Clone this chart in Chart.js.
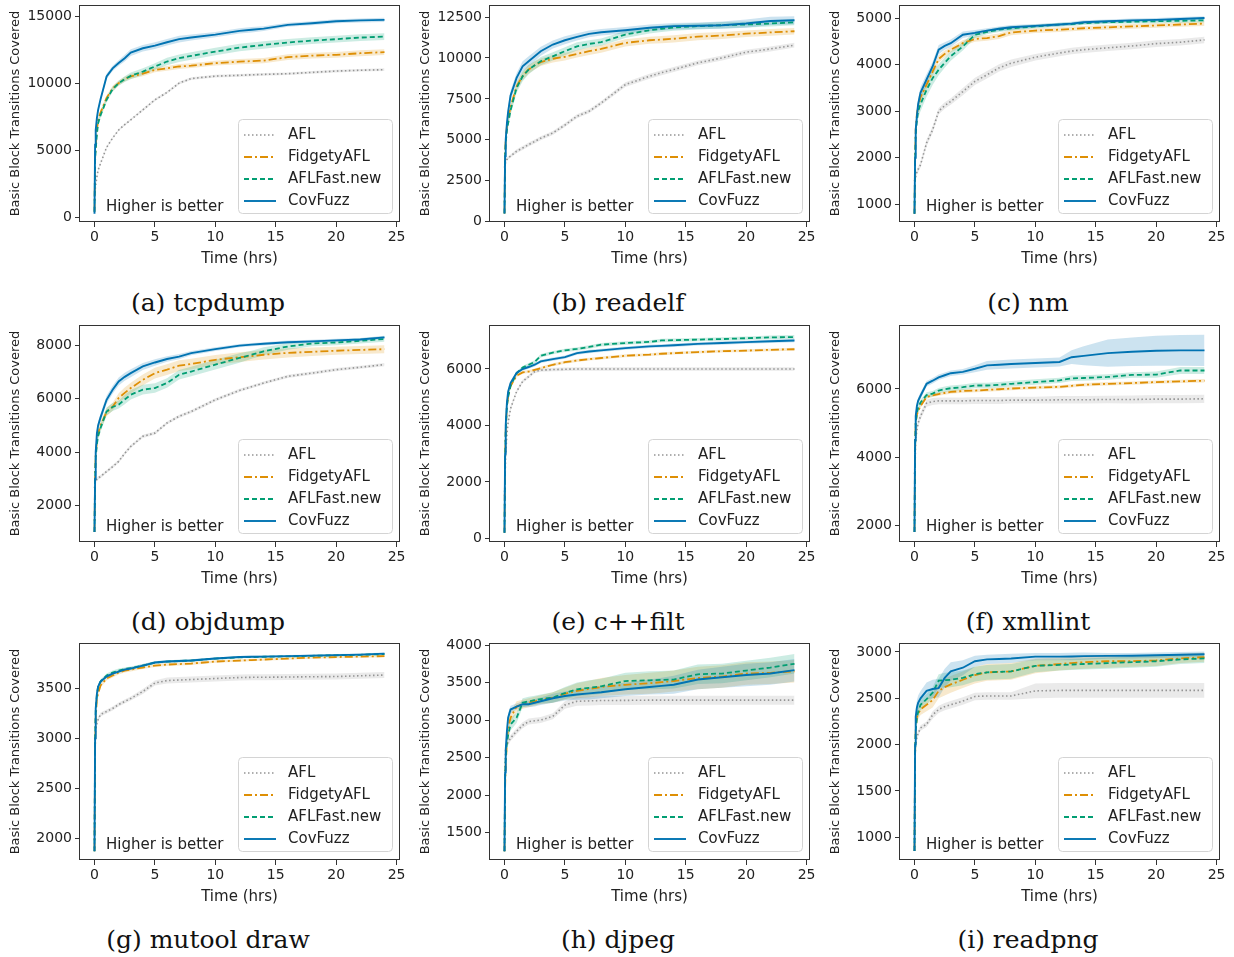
<!DOCTYPE html>
<html>
<head>
<meta charset="utf-8">
<title>Basic block transitions covered</title>
<script src="https://cdn.jsdelivr.net/npm/chart.js@4.4.0/dist/chart.umd.min.js"></script>
<style>
  body { margin: 0; background: #fff; width: 1234px; height: 957px; position: relative; overflow: hidden; }
  canvas { position: absolute; }
  .cap { position: absolute; font-family: "DejaVu Serif", serif; font-size: 25px; color: #111;
         transform: translate(-50%, -50%); white-space: nowrap; }
</style>
</head>
<body>
<script>
// time axis (hours), shared by every run
const T = [0, 0.05, 0.1, 0.2, 0.3, 0.5, 1, 1.5, 2, 2.5, 3, 4, 5, 6, 7, 8, 10, 12, 13, 14, 16, 18, 20, 22, 24];
const xTicks = [0, 5, 10, 15, 20, 25];

const seriesNames = ['AFL', 'FidgetyAFL', 'AFLFast.new', 'CovFuzz'];
const yTitle = 'Basic Block Transitions Covered';
const xTitle = 'Time (hrs)';

// (a) tcpdump
const tcpdumpAFL = [1500, 2000, 2400, 3000, 3500, 4000, 5200, 5900, 6500, 6900, 7260, 8000, 8750, 9300, 10000, 10340, 10520, 10580, 10620, 10650, 10700, 10800, 10900, 10960, 11000];
const tcpdumpFidgety = [400, 4400, 5200, 6500, 7300, 7800, 8900, 9600, 10000, 10300, 10500, 10700, 10990, 11100, 11240, 11300, 11490, 11600, 11640, 11680, 11940, 12050, 12110, 12230, 12310];
const tcpdumpFast = [400, 4200, 5000, 6200, 7000, 7600, 8750, 9550, 10000, 10300, 10540, 10860, 11240, 11610, 11860, 12030, 12350, 12650, 12750, 12850, 13030, 13170, 13280, 13400, 13470];
const tcpdumpCov = [250, 5400, 6500, 7400, 8000, 8800, 10500, 11100, 11500, 11860, 12280, 12600, 12800, 13050, 13280, 13400, 13620, 13900, 13980, 14070, 14350, 14470, 14620, 14680, 14720];
const tcpdumpAFLsd = [0, 80, 80, 80, 80, 80, 80, 80, 80, 80, 80, 100, 100, 100, 100, 100, 100, 100, 100, 100, 100, 100, 100, 100, 100];
const tcpdumpFidgetySd = [0, 200, 200, 200, 200, 200, 200, 200, 180, 180, 180, 180, 180, 180, 180, 180, 180, 200, 200, 200, 220, 220, 220, 220, 220];
const tcpdumpFastSd = [0, 200, 200, 200, 200, 200, 200, 200, 200, 220, 250, 250, 250, 280, 280, 280, 280, 280, 280, 280, 260, 260, 250, 250, 250];
const tcpdumpCovSd = [0, 150, 150, 150, 150, 150, 200, 200, 200, 250, 250, 250, 250, 250, 250, 220, 200, 200, 200, 180, 150, 150, 150, 150, 150];

// (b) readelf
const readelfAFL = [3300, 3500, 3650, 3800, 3900, 4000, 4300, 4500, 4710, 4900, 5100, 5420, 5900, 6440, 6740, 7250, 8370, 8880, 9100, 9290, 9700, 10000, 10350, 10550, 10780];
const readelfFidgety = [500, 4200, 5000, 5800, 6300, 7000, 8270, 8900, 9300, 9550, 9740, 9950, 10070, 10250, 10410, 10550, 10920, 11080, 11120, 11170, 11300, 11370, 11480, 11560, 11630];
const readelfFast = [500, 4000, 4800, 5600, 6000, 6800, 8170, 8880, 9290, 9550, 9800, 10100, 10410, 10710, 10860, 10960, 11430, 11690, 11780, 11860, 11940, 12000, 12040, 12100, 12180];
const readelfCov = [500, 4000, 5000, 6000, 6700, 7700, 8780, 9490, 9800, 10100, 10410, 10820, 11080, 11290, 11470, 11570, 11690, 11840, 11890, 11940, 11970, 12000, 12100, 12260, 12300];
const readelfAFLsd = [0, 100, 100, 100, 100, 100, 120, 120, 120, 120, 120, 120, 120, 120, 120, 120, 150, 150, 150, 150, 150, 150, 150, 150, 150];
const readelfFidgetySd = [0, 300, 300, 300, 300, 280, 250, 250, 250, 250, 230, 230, 230, 230, 230, 230, 220, 220, 220, 220, 220, 220, 200, 200, 200];
const readelfFastSd = [0, 300, 300, 300, 300, 300, 300, 300, 280, 250, 250, 250, 250, 250, 220, 220, 220, 200, 200, 200, 200, 200, 180, 180, 180];
const readelfCovSd = [0, 300, 300, 300, 300, 300, 300, 300, 300, 300, 280, 250, 250, 220, 200, 200, 200, 200, 200, 200, 200, 220, 250, 250, 250];

// (c) nm
const nmAFL = [1500, 1550, 1600, 1700, 1750, 1850, 2320, 2600, 3000, 3120, 3210, 3420, 3640, 3780, 3930, 4030, 4160, 4250, 4290, 4320, 4360, 4400, 4450, 4480, 4530];
const nmFidgety = [800, 2000, 2600, 2950, 3100, 3300, 3570, 3850, 4120, 4230, 4320, 4460, 4550, 4570, 4610, 4690, 4730, 4750, 4765, 4780, 4800, 4820, 4840, 4860, 4880];
const nmFast = [800, 1900, 2500, 2800, 3000, 3150, 3460, 3710, 3890, 4040, 4180, 4390, 4640, 4700, 4750, 4780, 4820, 4860, 4870, 4890, 4910, 4920, 4930, 4940, 4950];
const nmCov = [800, 2000, 2600, 2900, 3150, 3400, 3680, 3960, 4320, 4400, 4460, 4640, 4680, 4730, 4770, 4800, 4830, 4860, 4880, 4910, 4930, 4950, 4960, 4980, 5000];
const nmAFLsd = [0, 60, 60, 60, 60, 60, 70, 70, 70, 70, 70, 80, 80, 80, 80, 80, 70, 70, 70, 70, 70, 70, 70, 70, 70];
const nmFidgetySd = [0, 120, 120, 120, 120, 120, 100, 90, 80, 70, 60, 60, 60, 60, 60, 60, 50, 50, 50, 50, 50, 50, 50, 50, 50];
const nmFastSd = [0, 150, 150, 150, 150, 150, 150, 150, 120, 110, 100, 90, 70, 50, 50, 50, 40, 40, 40, 40, 40, 40, 40, 40, 40];
const nmCovSd = [0, 120, 120, 120, 120, 120, 120, 100, 100, 80, 80, 70, 60, 50, 50, 50, 40, 40, 40, 40, 40, 40, 40, 40, 40];

// (d) objdump
const objdumpAFL = [2650, 2800, 2900, 2980, 3030, 3080, 3270, 3450, 3650, 3950, 4210, 4590, 4710, 5090, 5340, 5520, 5960, 6310, 6450, 6590, 6840, 6960, 7090, 7180, 7280];
const objdumpFidgety = [1000, 3100, 3900, 4400, 4700, 5000, 5500, 5700, 6030, 6220, 6400, 6710, 6960, 7090, 7240, 7300, 7460, 7560, 7600, 7650, 7720, 7760, 7800, 7830, 7860];
const objdumpFast = [1000, 3000, 3800, 4300, 4600, 4900, 5520, 5690, 5780, 5970, 6150, 6340, 6400, 6590, 6900, 7020, 7280, 7530, 7650, 7780, 7960, 8070, 8110, 8170, 8240];
const objdumpCov = [1000, 3000, 4000, 4700, 5000, 5300, 5960, 6340, 6650, 6820, 6960, 7210, 7360, 7490, 7580, 7710, 7860, 7990, 8030, 8060, 8120, 8150, 8190, 8220, 8300];
const objdumpAFLsd = [0, 60, 60, 60, 60, 60, 60, 60, 60, 60, 60, 60, 60, 60, 60, 60, 60, 60, 60, 60, 60, 60, 60, 60, 60];
const objdumpFidgetySd = [0, 150, 150, 150, 150, 150, 150, 150, 180, 200, 200, 200, 200, 200, 200, 200, 180, 180, 180, 180, 170, 160, 150, 150, 150];
const objdumpFastSd = [0, 150, 150, 150, 150, 150, 150, 150, 150, 180, 180, 180, 180, 180, 180, 180, 180, 180, 150, 150, 120, 100, 100, 100, 100];
const objdumpCovSd = [0, 150, 150, 150, 150, 150, 150, 150, 150, 150, 150, 130, 120, 100, 100, 80, 70, 60, 60, 60, 60, 60, 60, 60, 60];

// (e) c++filt
const cxxfiltAFL = [1500, 2200, 3000, 3700, 4100, 4600, 5200, 5560, 5730, 5910, 5960, 5980, 5990, 6000, 6000, 6000, 6000, 6000, 6000, 6000, 6000, 6000, 6000, 6000, 6000];
const cxxfiltFidgety = [200, 2800, 3800, 4700, 5000, 5400, 5760, 5880, 5910, 5970, 6030, 6150, 6240, 6300, 6350, 6390, 6470, 6510, 6540, 6560, 6600, 6630, 6650, 6680, 6700];
const cxxfiltFast = [200, 2800, 3800, 4700, 5000, 5400, 5850, 6050, 6150, 6250, 6470, 6580, 6660, 6710, 6780, 6860, 6920, 6960, 7010, 7020, 7040, 7060, 7090, 7120, 7130];
const cxxfiltCov = [200, 3000, 4000, 4800, 5200, 5500, 5860, 6000, 6070, 6150, 6270, 6350, 6420, 6560, 6620, 6660, 6740, 6800, 6820, 6840, 6890, 6920, 6950, 6980, 7010];
const cxxfiltAFLsd = [0, 80, 80, 80, 80, 80, 60, 60, 60, 60, 60, 60, 60, 60, 60, 60, 60, 60, 60, 60, 60, 60, 60, 60, 60];
const cxxfiltFidgetySd = [0, 100, 100, 100, 100, 80, 50, 50, 50, 50, 50, 50, 50, 50, 50, 50, 50, 50, 50, 50, 50, 50, 50, 50, 50];
const cxxfiltFastSd = [0, 100, 100, 100, 100, 80, 60, 60, 60, 60, 60, 60, 60, 60, 60, 60, 60, 60, 60, 60, 60, 60, 60, 70, 70];
const cxxfiltCovSd = [0, 100, 100, 100, 100, 80, 60, 60, 60, 60, 60, 60, 60, 60, 60, 60, 60, 60, 60, 60, 60, 60, 60, 60, 60];

// (f) xmllint
const xmllintAFL = [3500, 3800, 4500, 4800, 5000, 5200, 5580, 5630, 5650, 5650, 5650, 5650, 5660, 5660, 5660, 5670, 5670, 5680, 5680, 5680, 5690, 5690, 5700, 5700, 5710];
const xmllintFidgety = [1800, 4200, 5000, 5250, 5350, 5500, 5760, 5810, 5850, 5880, 5910, 5940, 5950, 5970, 5990, 6010, 6040, 6060, 6090, 6120, 6150, 6170, 6200, 6220, 6240];
const xmllintFast = [1800, 4200, 5000, 5300, 5450, 5600, 5820, 5860, 5950, 5990, 6020, 6050, 6100, 6100, 6120, 6150, 6200, 6250, 6310, 6320, 6350, 6410, 6420, 6540, 6540];
const xmllintCov = [1800, 4500, 5200, 5500, 5650, 5800, 6150, 6240, 6340, 6400, 6460, 6500, 6590, 6690, 6710, 6730, 6760, 6790, 6930, 6970, 7050, 7090, 7120, 7130, 7130];
const xmllintAFLsd = [0, 100, 100, 100, 100, 100, 100, 100, 100, 100, 100, 100, 100, 100, 100, 100, 100, 110, 110, 110, 110, 120, 120, 120, 120];
const xmllintFidgetySd = [0, 100, 100, 100, 80, 60, 50, 50, 50, 50, 50, 50, 50, 50, 50, 50, 50, 50, 50, 50, 50, 50, 50, 50, 50];
const xmllintFastSd = [0, 100, 100, 100, 100, 80, 80, 80, 80, 80, 80, 80, 80, 80, 80, 80, 80, 80, 80, 80, 80, 80, 90, 100, 100];
const xmllintCovSd = [0, 100, 100, 100, 100, 100, 80, 80, 80, 80, 80, 80, 100, 130, 130, 130, 130, 130, 200, 280, 400, 420, 440, 450, 460];

// (g) mutool draw
const mutoolAFL = [1900, 3000, 3100, 3150, 3190, 3240, 3270, 3300, 3340, 3370, 3400, 3470, 3555, 3580, 3585, 3590, 3600, 3610, 3612, 3613, 3615, 3618, 3620, 3628, 3635];
const mutoolFidgety = [1870, 2900, 3200, 3400, 3450, 3530, 3600, 3630, 3660, 3680, 3690, 3710, 3730, 3740, 3745, 3750, 3770, 3780, 3785, 3790, 3800, 3810, 3815, 3820, 3825];
const mutoolFast = [1870, 3000, 3280, 3440, 3520, 3570, 3630, 3660, 3680, 3695, 3705, 3730, 3760, 3770, 3775, 3780, 3800, 3812, 3815, 3818, 3822, 3828, 3833, 3838, 3845];
const mutoolCov = [1870, 3000, 3300, 3450, 3520, 3570, 3620, 3650, 3670, 3690, 3700, 3730, 3760, 3770, 3775, 3780, 3800, 3815, 3818, 3820, 3825, 3830, 3835, 3840, 3850];
const mutoolAFLsd = [0, 30, 20, 20, 20, 20, 20, 20, 20, 20, 20, 25, 25, 30, 30, 30, 30, 30, 30, 30, 30, 30, 30, 30, 30];
const mutoolFidgetySd = [0, 50, 40, 30, 25, 20, 20, 20, 20, 20, 20, 15, 15, 15, 15, 15, 12, 12, 12, 12, 12, 12, 12, 12, 12];
const mutoolFastSd = [0, 50, 40, 30, 25, 20, 20, 20, 20, 15, 15, 15, 12, 12, 12, 12, 10, 10, 10, 10, 10, 10, 10, 10, 10];
const mutoolCovSd = [0, 50, 40, 30, 20, 20, 15, 15, 15, 15, 15, 15, 12, 12, 12, 12, 10, 10, 10, 10, 10, 10, 10, 10, 10];

// (h) djpeg
const djpegAFL = [1250, 2400, 2630, 2680, 2700, 2760, 2850, 2930, 2980, 2990, 3000, 3050, 3200, 3250, 3255, 3260, 3262, 3265, 3265, 3265, 3265, 3265, 3265, 3265, 3265];
const djpegFidgety = [1250, 2100, 2400, 2700, 2900, 3030, 3180, 3210, 3230, 3250, 3270, 3300, 3350, 3390, 3415, 3440, 3470, 3490, 3505, 3520, 3560, 3580, 3620, 3630, 3650];
const djpegFast = [1250, 2200, 2500, 2700, 2800, 2940, 3030, 3230, 3250, 3265, 3280, 3300, 3360, 3410, 3430, 3450, 3520, 3530, 3535, 3540, 3610, 3620, 3660, 3700, 3750];
const djpegCov = [1250, 2300, 2600, 2850, 3030, 3140, 3180, 3210, 3210, 3230, 3250, 3290, 3320, 3340, 3355, 3370, 3410, 3440, 3455, 3470, 3540, 3570, 3600, 3620, 3665];
const djpegAFLsd = [0, 40, 40, 40, 40, 40, 40, 40, 40, 40, 40, 40, 50, 60, 60, 60, 60, 60, 60, 60, 60, 60, 60, 60, 60];
const djpegFidgetySd = [0, 80, 80, 80, 80, 80, 70, 60, 60, 60, 60, 70, 80, 100, 110, 120, 130, 140, 140, 140, 150, 150, 150, 150, 150];
const djpegFastSd = [0, 80, 80, 80, 80, 80, 70, 60, 60, 60, 60, 70, 80, 90, 100, 100, 110, 120, 120, 120, 130, 130, 130, 130, 130];
const djpegCovSd = [0, 80, 80, 70, 60, 50, 40, 40, 40, 50, 50, 60, 60, 70, 80, 80, 90, 100, 110, 120, 130, 140, 150, 150, 150];

// (i) readpng
const readpngAFL = [850, 1900, 2000, 2080, 2120, 2180, 2220, 2320, 2380, 2410, 2430, 2470, 2520, 2525, 2525, 2525, 2580, 2585, 2585, 2585, 2585, 2585, 2585, 2585, 2585];
const readpngFidgety = [850, 1900, 2150, 2300, 2330, 2380, 2430, 2480, 2580, 2620, 2650, 2700, 2750, 2780, 2785, 2790, 2850, 2870, 2880, 2890, 2900, 2900, 2910, 2930, 2945];
const readpngFast = [850, 1900, 2150, 2300, 2350, 2430, 2490, 2560, 2690, 2695, 2700, 2720, 2760, 2780, 2785, 2790, 2850, 2860, 2865, 2870, 2880, 2890, 2900, 2920, 2930];
const readpngCov = [850, 2000, 2300, 2400, 2450, 2500, 2580, 2600, 2610, 2720, 2790, 2830, 2900, 2920, 2925, 2930, 2950, 2950, 2952, 2955, 2958, 2960, 2965, 2970, 2975];
const readpngAFLsd = [0, 30, 30, 30, 30, 30, 30, 40, 40, 40, 40, 40, 40, 40, 40, 40, 80, 80, 80, 80, 80, 80, 80, 80, 80];
const readpngFidgetySd = [0, 60, 60, 60, 60, 60, 70, 80, 80, 90, 90, 90, 90, 90, 90, 90, 80, 70, 70, 70, 70, 60, 60, 50, 50];
const readpngFastSd = [0, 60, 60, 60, 60, 60, 60, 60, 70, 80, 80, 80, 80, 80, 80, 80, 70, 60, 60, 60, 60, 60, 60, 50, 50];
const readpngCovSd = [0, 80, 80, 80, 80, 80, 90, 100, 100, 100, 100, 80, 60, 50, 50, 50, 40, 40, 40, 40, 30, 30, 30, 30, 30];

// panel captions, y-axis ranges and tick labels, in reading order
const captions = ['(a) tcpdump', '(b) readelf', '(c) nm', '(d) objdump', '(e) c++filt', '(f) xmllint', '(g) mutool draw', '(h) djpeg', '(i) readpng'];
const yMins = [-370, -20, 622, 627, -127, 1510, 1782, 1134, 754];
const yMaxs = [15830, 13233, 5279, 8765, 7558, 7874, 3956, 4027, 3097];
const yTicks = [
    [0, 5000, 10000, 15000],
    [0, 2500, 5000, 7500, 10000, 12500],
    [1000, 2000, 3000, 4000, 5000],
    [2000, 4000, 6000, 8000],
    [0, 2000, 4000, 6000],
    [2000, 4000, 6000],
    [2000, 2500, 3000, 3500],
    [1500, 2000, 2500, 3000, 3500, 4000],
    [1000, 1500, 2000, 2500, 3000]
];

const means = [
    [tcpdumpAFL, tcpdumpFidgety, tcpdumpFast, tcpdumpCov],
    [readelfAFL, readelfFidgety, readelfFast, readelfCov],
    [nmAFL, nmFidgety, nmFast, nmCov],
    [objdumpAFL, objdumpFidgety, objdumpFast, objdumpCov],
    [cxxfiltAFL, cxxfiltFidgety, cxxfiltFast, cxxfiltCov],
    [xmllintAFL, xmllintFidgety, xmllintFast, xmllintCov],
    [mutoolAFL, mutoolFidgety, mutoolFast, mutoolCov],
    [djpegAFL, djpegFidgety, djpegFast, djpegCov],
    [readpngAFL, readpngFidgety, readpngFast, readpngCov]
];
const spreads = [
    [tcpdumpAFLsd, tcpdumpFidgetySd, tcpdumpFastSd, tcpdumpCovSd],
    [readelfAFLsd, readelfFidgetySd, readelfFastSd, readelfCovSd],
    [nmAFLsd, nmFidgetySd, nmFastSd, nmCovSd],
    [objdumpAFLsd, objdumpFidgetySd, objdumpFastSd, objdumpCovSd],
    [cxxfiltAFLsd, cxxfiltFidgetySd, cxxfiltFastSd, cxxfiltCovSd],
    [xmllintAFLsd, xmllintFidgetySd, xmllintFastSd, xmllintCovSd],
    [mutoolAFLsd, mutoolFidgetySd, mutoolFastSd, mutoolCovSd],
    [djpegAFLsd, djpegFidgetySd, djpegFastSd, djpegCovSd],
    [readpngAFLsd, readpngFidgetySd, readpngFastSd, readpngCovSd]
];

// styles per series (AFL, FidgetyAFL, AFLFast.new, CovFuzz)
const colors = ['#949494', '#de8f05', '#029e73', '#0173b2'];
const bandColors = ['rgba(148,148,148,0.2)', 'rgba(222,143,5,0.2)', 'rgba(2,158,115,0.2)', 'rgba(1,115,178,0.2)'];
const dashes = [[1.5, 2.5], [8, 3, 2, 3], [5, 3], []];
const widths = [1.6, 1.8, 1.8, 1.9];

document.addEventListener('DOMContentLoaded', function() {
    const FONT = '"DejaVu Sans", sans-serif';
    const W = 410, H = 280;
    const rowTops = [0, 320, 638];
    const capY = [302, 621, 939];

    // drop the label overflow padding so the plot box sits where layout.padding says
    const noScalePadding = (scale) => {
        scale.paddingTop = 0;
        scale.paddingBottom = 0;
        scale.paddingLeft = 0;
        scale.paddingRight = 0;
    };

    // legend, note and the full axes frame drawn inside each panel
    const insideLegend = {
        id: 'insideLegend',
        afterDatasetsDraw(chart) {
            const ctx = chart.ctx;
            const a = chart.chartArea;
            ctx.save();
            ctx.font = '15px ' + FONT;
            ctx.textBaseline = 'middle';
            ctx.fillStyle = '#222';
            ctx.fillText('Higher is better', a.left + 26, a.top + 202);

            const bx = a.right - 161, by = a.top + 114, bw = 154, bh = 94;
            ctx.beginPath();
            ctx.roundRect(bx + 0.5, by + 0.5, bw, bh, 4);
            ctx.fillStyle = 'rgba(255,255,255,0.8)';
            ctx.fill();
            ctx.strokeStyle = '#d4d4d4';
            ctx.lineWidth = 1;
            ctx.stroke();

            seriesNames.forEach((name, i) => {
                const y = by + 16 + i * 22;
                ctx.beginPath();
                ctx.setLineDash(dashes[i]);
                ctx.strokeStyle = colors[i];
                ctx.lineWidth = widths[i];
                ctx.moveTo(bx + 6, y);
                ctx.lineTo(bx + 38, y);
                ctx.stroke();
                ctx.setLineDash([]);
                ctx.fillStyle = '#222';
                ctx.fillText(name, bx + 50, y);
            });

            ctx.strokeStyle = '#333';
            ctx.lineWidth = 1;
            ctx.strokeRect(Math.round(a.left) - 0.5, Math.round(a.top) + 0.5,
                Math.round(a.right - a.left) + 1, Math.round(a.bottom - a.top) - 1);
            ctx.restore();
        }
    };

    captions.forEach((caption, p) => {
        const col = p % 3, row = Math.floor(p / 3);

        const canvas = document.createElement('canvas');
        canvas.width = W;
        canvas.height = H;
        canvas.style.left = (col * 410) + 'px';
        canvas.style.top = rowTops[row] + 'px';
        document.body.appendChild(canvas);

        const cap = document.createElement('div');
        cap.className = 'cap';
        cap.textContent = caption;
        cap.style.left = (208 + col * 410) + 'px';
        cap.style.top = capY[row] + 'px';
        document.body.appendChild(cap);

        const datasets = [];
        // mean lines first so CovFuzz ends up on top
        for (let s = 3; s >= 0; s--) {
            datasets.push({
                label: seriesNames[s],
                data: T.map((t, i) => ({ x: t, y: means[p][s][i] })),
                borderColor: colors[s],
                borderWidth: widths[s],
                borderDash: dashes[s],
                pointRadius: 0,
                tension: 0,
                fill: false
            });
        }
        // shaded bands
        for (let s = 3; s >= 0; s--) {
            const loIndex = datasets.length + 1;
            datasets.push({
                label: seriesNames[s] + ' hi',
                data: T.map((t, i) => ({ x: t, y: means[p][s][i] + spreads[p][s][i] })),
                borderColor: 'rgba(0,0,0,0)',
                borderWidth: 0,
                pointRadius: 0,
                backgroundColor: bandColors[s],
                fill: loIndex
            });
            datasets.push({
                label: seriesNames[s] + ' lo',
                data: T.map((t, i) => ({ x: t, y: means[p][s][i] - spreads[p][s][i] })),
                borderColor: 'rgba(0,0,0,0)',
                borderWidth: 0,
                pointRadius: 0,
                fill: false
            });
        }

        new Chart(canvas.getContext('2d'), {
            type: 'line',
            data: { datasets: datasets },
            plugins: [insideLegend],
            options: {
                responsive: false,
                animation: false,
                devicePixelRatio: 1,
                layout: { padding: { top: 5, right: 11, bottom: 0, left: 0 } },
                plugins: {
                    legend: { display: false },
                    tooltip: { enabled: false },
                    filler: { drawTime: 'beforeDatasetsDraw' }
                },
                scales: {
                    x: {
                        type: 'linear',
                        min: -1.2,
                        max: 25.2,
                        afterBuildTicks: (scale) => { scale.ticks = xTicks.map(v => ({ value: v })); },
                        afterFit: (scale) => { scale.height = H - 222; noScalePadding(scale); },
                        border: { display: false },
                        grid: { drawOnChartArea: false, drawTicks: true, tickLength: 5, tickColor: '#333' },
                        ticks: {
                            autoSkip: false,
                            maxRotation: 0,
                            padding: 2,
                            color: '#222',
                            font: { family: FONT, size: 14 },
                            callback: (v) => String(v)
                        },
                        title: {
                            display: true,
                            text: xTitle,
                            color: '#222',
                            font: { family: FONT, size: 15 },
                            padding: { top: 0, bottom: 12 }
                        }
                    },
                    y: {
                        type: 'linear',
                        min: yMins[p],
                        max: yMaxs[p],
                        afterBuildTicks: (scale) => { scale.ticks = yTicks[p].map(v => ({ value: v })); },
                        afterFit: (scale) => { scale.width = 80; noScalePadding(scale); },
                        border: { display: false },
                        grid: { drawOnChartArea: false, drawTicks: true, tickLength: 5, tickColor: '#333' },
                        ticks: {
                            autoSkip: false,
                            padding: 3,
                            color: '#222',
                            font: { family: FONT, size: 14 },
                            callback: (v) => String(v)
                        },
                        title: {
                            display: true,
                            text: yTitle,
                            color: '#222',
                            font: { family: FONT, size: 13 },
                            padding: { top: 8, bottom: 0 }
                        }
                    }
                }
            }
        });
    });
});
</script>
</body>
</html>
